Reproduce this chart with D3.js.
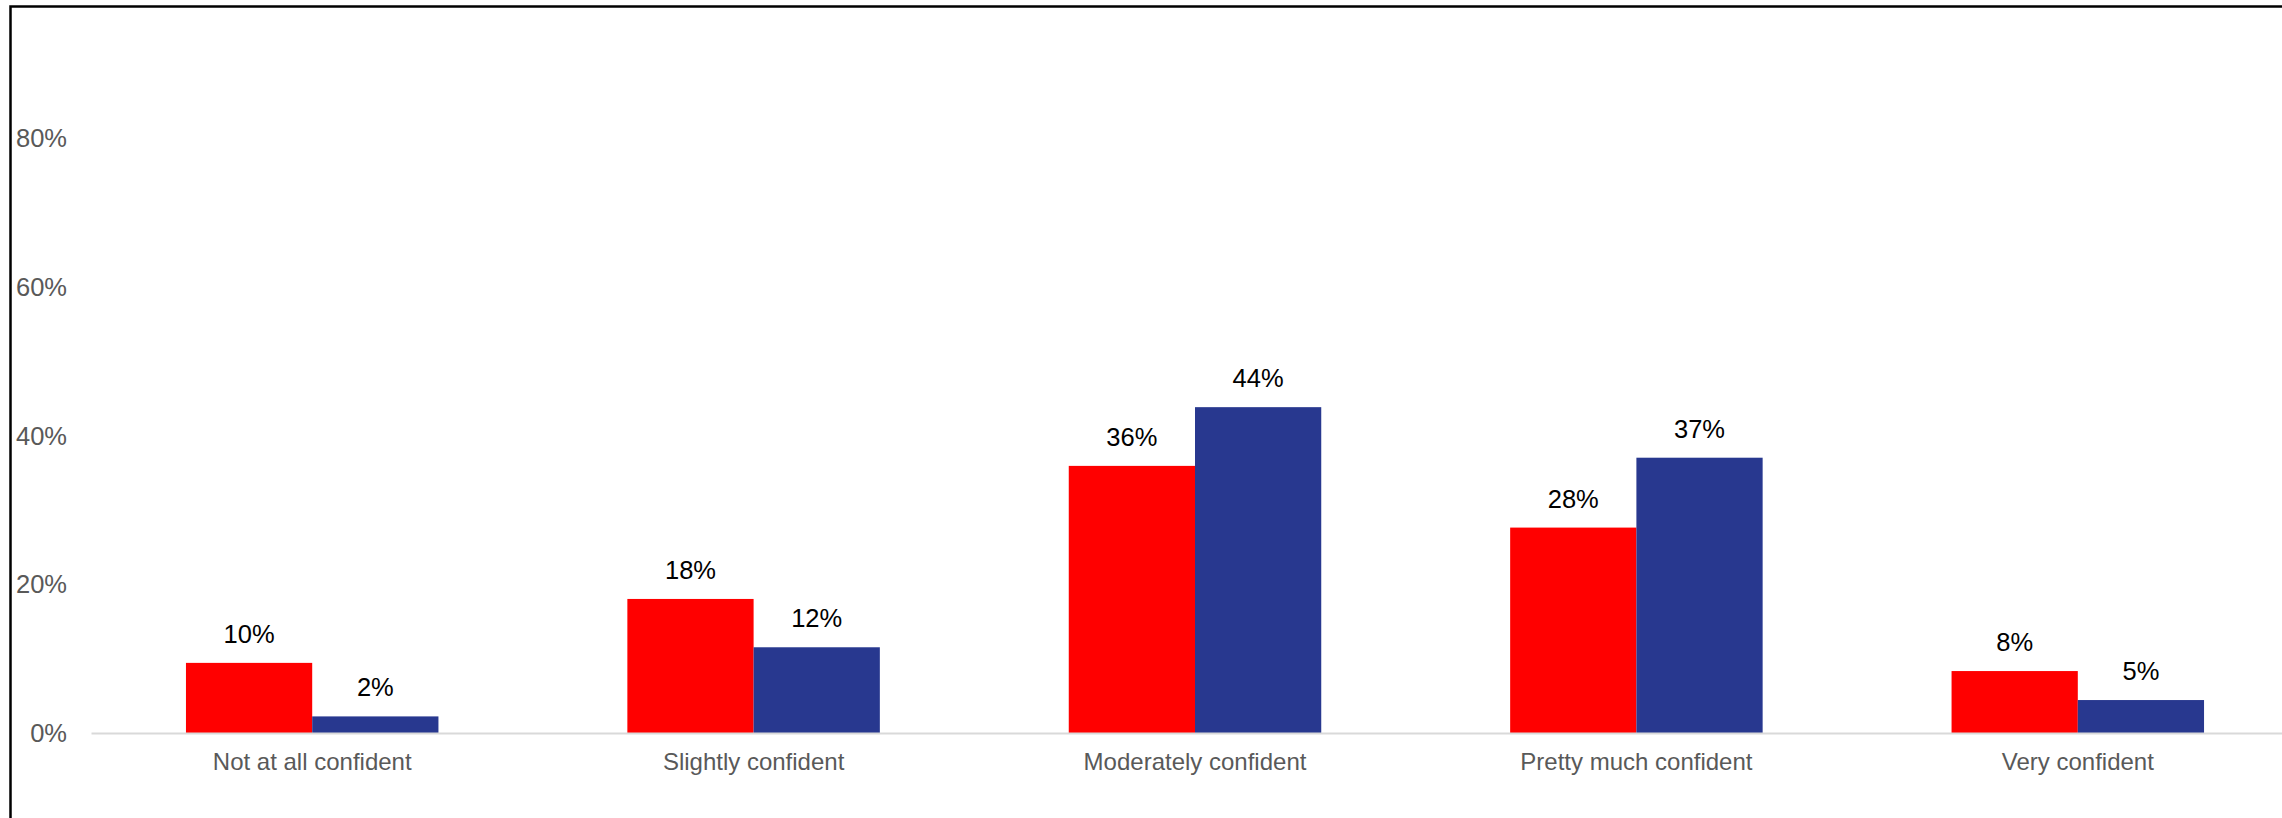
<!DOCTYPE html>
<html>
<head>
<meta charset="utf-8">
<script src="https://cdn.jsdelivr.net/npm/d3@7"></script>
<style>
  html, body { margin: 0; padding: 0; background: #fff; }
  svg { display: block; font-family: "Liberation Sans", Arial, sans-serif; }
</style>
</head>
<body>
<svg width="2282" height="818"></svg>
<script>
// chart data
let categories = ['Not at all confident', 'Slightly confident', 'Moderately confident', 'Pretty much confident', 'Very confident']
let seriesNames = ['Group A', 'Group B']
let seriesA = [9.5, 18.1, 36.0, 27.7, 8.4]
let seriesB = [2.3, 11.6, 43.9, 37.1, 4.5]
let yTicks = [0, 20, 40, 60, 80]
let colors = ['#ff0000', '#28388f']

var svg = d3.select('svg')

let rows = categories.map((c, i) => ({ cat: c, values: [seriesA[i], seriesB[i]] }))

// plot area runs past the right edge of the picture (it is cropped)
let x0 = d3.scaleBand()
  .domain(categories)
  .range([91.5, 2298.5])
  .paddingInner(0.428)
  .paddingOuter(0.214)

let x1 = d3.scaleBand()
  .domain(seriesNames)
  .range([0, x0.bandwidth()])

let y = d3.scaleLinear()
  .domain([0, 80])
  .range([733.5, 138.8])

// outer frame
svg.append('rect')
  .attr('x', 10.5).attr('y', 6.5)
  .attr('width', 2400).attr('height', 900)
  .attr('fill', 'none')
  .attr('stroke', '#000')
  .attr('stroke-width', 2.5)

// y tick labels (no gridlines in the reference)
let yAxis = d3.axisLeft(y)
  .tickValues(yTicks)
  .tickSize(0)
  .tickPadding(0)
  .tickFormat(d => d + '%')

svg.append('g')
  .attr('transform', 'translate(67,0)')
  .call(yAxis)
  .call(g => g.select('.domain').remove())
  .selectAll('text')
  .attr('font-size', '25.5px')
  .attr('font-family', '"Liberation Sans", Arial, sans-serif')
  .attr('fill', '#595959')

// bars
let groups = svg.append('g')
  .selectAll('g')
  .data(rows)
  .enter()
  .append('g')
  .attr('transform', d => 'translate(' + x0(d.cat) + ',0)')

groups.selectAll('rect')
  .data(d => d.values.map((v, i) => ({ key: seriesNames[i], value: v, i: i })))
  .enter()
  .append('rect')
  .attr('x', d => x1(d.key))
  .attr('y', d => y(d.value))
  .attr('width', x1.bandwidth())
  .attr('height', d => y(0) - y(d.value))
  .attr('fill', d => colors[d.i])

// data labels
groups.selectAll('text')
  .data(d => d.values.map((v, i) => ({ key: seriesNames[i], value: v })))
  .enter()
  .append('text')
  .attr('x', d => x1(d.key) + x1.bandwidth() / 2)
  .attr('y', d => y(d.value) - 20)
  .attr('text-anchor', 'middle')
  .attr('font-size', '25.5px')
  .attr('fill', '#000')
  .text(d => Math.round(d.value) + '%')

// x axis line and category labels
let xAxis = d3.axisBottom(x0).tickSize(0).tickPadding(0)

svg.append('g')
  .attr('transform', 'translate(0,' + y(0) + ')')
  .call(xAxis)
  .call(g => g.select('.domain')
    .attr('d', 'M91.5,0H2282')
    .attr('stroke', '#d9d9d9')
    .attr('stroke-width', 2))
  .selectAll('text')
  .attr('dy', null)
  .attr('y', 36.5)
  .attr('font-size', '24px')
  .attr('font-family', '"Liberation Sans", Arial, sans-serif')
  .attr('fill', '#595959')
</script>
</body>
</html>
